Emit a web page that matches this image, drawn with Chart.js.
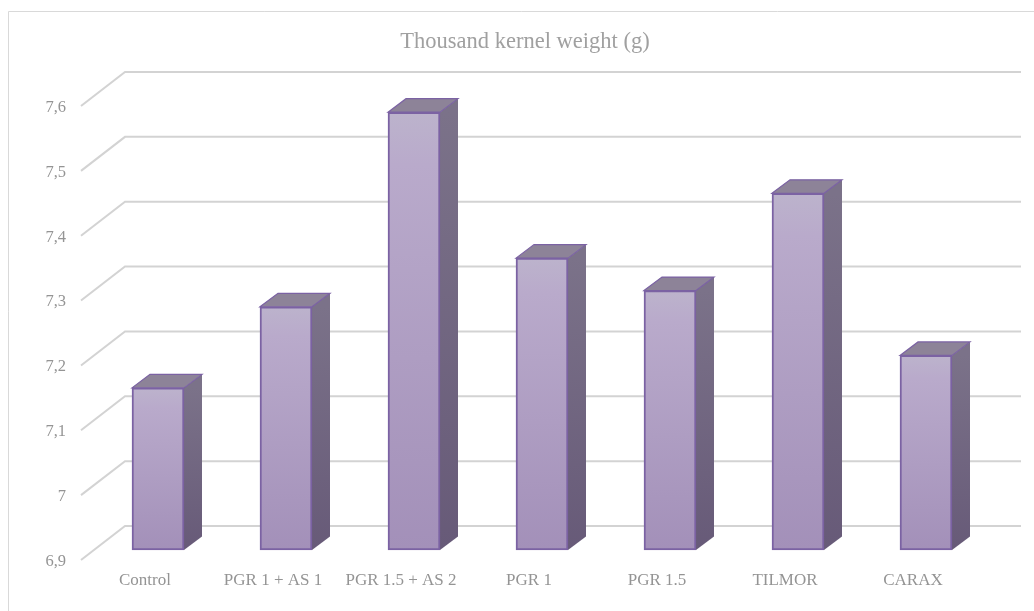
<!DOCTYPE html>
<html><head><meta charset="utf-8">
<style>html,body{margin:0;padding:0;background:#fff}#w{width:1034px;height:611px;position:relative}</style>
<script src="https://cdn.jsdelivr.net/npm/chart.js@4"></script></head>
<body><div id="w"><canvas id="c" width="1034" height="611"></canvas></div>
<script>
const categories = ['Control','PGR 1 + AS 1','PGR 1.5 + AS 2','PGR 1','PGR 1.5','TILMOR','CARAX'];
const weights = [7.15,7.275,7.575,7.35,7.30,7.45,7.20];
const yMin = 6.9, yMax = 7.6, yStep = 0.1;
const titleText = 'Thousand kernel weight (g)';
const FONT = '"Liberation Serif","Times New Roman",serif';
const GREY = '#949494';
// 3D projection offsets
const WALL = {dx:44, dy:-34}, SHIFT = {dx:13, dy:-10}, DEPTH = {dx:18, dy:-13.5};

function grad(ctx, y0, y1, stops){
  const g = ctx.createLinearGradient(0,y0,0,y1);
  stops.forEach(s=>g.addColorStop(s[0],s[1]));
  return g;
}
const threeD = {
  id:'threeD',
  beforeDraw(chart){
    const c = chart.ctx;
    c.save();
    c.fillStyle='#fff'; c.fillRect(0,0,chart.width,chart.height);
    c.strokeStyle='#d9d9d9'; c.lineWidth=1;
    c.beginPath(); c.moveTo(8.5,611); c.lineTo(8.5,11.5); c.lineTo(1034,11.5); c.stroke();
    c.restore();
  },
  beforeDatasetsDraw(chart){
    const c = chart.ctx, y = chart.scales.y, a = chart.chartArea;
    c.save();
    c.strokeStyle='#d3d3d3'; c.lineWidth=2; c.lineJoin='miter';
    y.ticks.forEach(t=>{
      const p = y.getPixelForValue(t.value);
      c.beginPath();
      c.moveTo(a.left,p);
      c.lineTo(a.left+WALL.dx,p+WALL.dy);
      c.lineTo(a.right+WALL.dx,p+WALL.dy);
      c.stroke();
    });
    c.restore();
    c.save();
    c.translate(SHIFT.dx,SHIFT.dy);
    const bars = chart.getDatasetMeta(0).data;
    bars.forEach(b=>{
      const l=b.x-b.width/2, r=b.x+b.width/2, t=b.y, u=b.base;
      // side face
      c.beginPath();
      c.moveTo(r,t); c.lineTo(r+DEPTH.dx,t+DEPTH.dy); c.lineTo(r+DEPTH.dx,u+DEPTH.dy); c.lineTo(r,u); c.closePath();
      c.fillStyle=grad(c,t,u,[[0,'#7b7289'],[1,'#675a78']]); c.fill();
      // top face
      c.beginPath();
      c.moveTo(l,t); c.lineTo(l+DEPTH.dx,t+DEPTH.dy); c.lineTo(r+DEPTH.dx,t+DEPTH.dy); c.lineTo(r,t); c.closePath();
      c.fillStyle='#8d8398'; c.fill();
      c.strokeStyle='#7b62a3'; c.lineWidth=1.2; c.stroke();
    });
  },
  afterDatasetsDraw(chart){ chart.ctx.restore(); }
};
new Chart(document.getElementById('c'),{
  type:'bar',
  data:{labels:categories,datasets:[{
    data:weights,
    base:yMin,
    clip:false,
    barThickness:52,
    borderWidth:2,
    borderColor:'#7b62a3',
    borderSkipped:false,
    backgroundColor(ctx){
      const ch=ctx.chart, s=ch.scales&&ch.scales.y;
      if(!s||ctx.raw===undefined) return '#b5a7c8';
      const y0=s.getPixelForValue(ctx.raw), y1=s.getPixelForValue(yMin);
      if(!isFinite(y0)||!isFinite(y1)) return '#b5a7c8';
      return grad(ch.ctx,y0,y1,[[0,'#bcb3cc'],[0.12,'#b9aacb'],[1,'#a390b9']]);
    }
  }]},
  options:{
    responsive:false,animation:false,
    layout:{padding:{left:16,right:0,top:0,bottom:0}},
    plugins:{
      legend:{display:false},tooltip:{enabled:false},
      title:{display:true,text:titleText,color:'#a0a0a0',
        font:{family:FONT,size:22.5,weight:'normal',lineHeight:1.2},
        padding:{top:28.5,bottom:50.5}}
    },
    scales:{
      x:{
        grid:{display:false},border:{display:false},
        ticks:{color:GREY,font:{family:FONT,size:17},padding:2,maxRotation:0,autoSkip:false},
        afterFit(s){s.height=51;}
      },
      y:{
        min:yMin,max:yMax,
        grid:{display:false},border:{display:false},
        ticks:{stepSize:yStep,color:GREY,font:{family:FONT,size:16.5},padding:7,labelOffset:1.5,
          callback:v=>String(+v.toFixed(1)).replace('.',',')},
        afterFit(s){s.width=65;}
      },
      rightGap:{
        position:'right',display:true,
        grid:{display:false},border:{display:false},
        ticks:{display:false},
        afterFit(s){s.width=57;}
      }
    }
  },
  plugins:[threeD]
});
</script></body></html>
